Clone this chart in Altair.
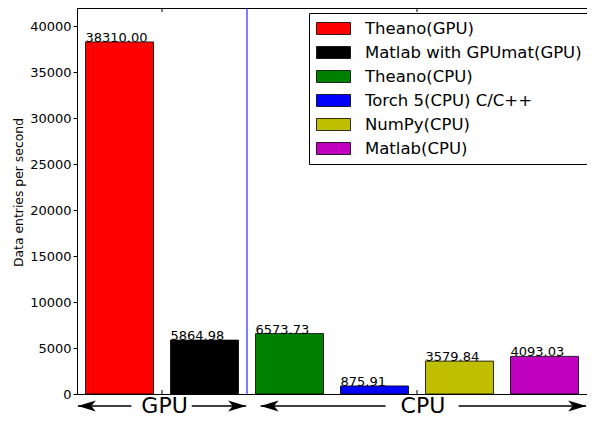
import altair as alt
import pandas as pd

# ---- data ----
names = ["Theano(GPU)", "Matlab with GPUmat(GPU)", "Theano(CPU)",
         "Torch 5(CPU) C/C++", "NumPy(CPU)", "Matlab(CPU)"]
values = [38310.00, 5864.98, 6573.73, 875.91, 3579.84, 4093.03]
positions = [0, 1, 2, 3, 4, 5]
colors = ["#ff0000", "#000000", "#008000", "#0000ff", "#bfbf00", "#bf00bf"]
y_ticks = [0, 5000, 10000, 15000, 20000, 25000, 30000, 35000, 40000]
x_ticks = [0.5, 3.5]
divider = [1.5]
group_labels = ["GPU", "CPU"]
group_centers = [0.53, 3.57]
arrow_tails = [0.14, 0.85, 3.13, 3.99]
arrow_tips = [-0.49, 1.49, 1.66, 5.49]
arrow_dirs = ["left", "right", "left", "right"]

# ---- layout / style ----
W, H = 510, 386
XDOM = [-0.5, 5.5]
YDOM = [0, 42000]
BAR_W = 0.8
FONT = "DejaVu Sans"
# legend swatch: 34x12 px with symbolSize 256 (r = 8 px)
RECT_PATH = "M-1,-0.75L3.25,-0.75L3.25,0.75L-1,0.75Z"
LEFT_HEAD = "M0,0L2,-0.62L1.5,0L2,0.62Z"
RIGHT_HEAD = "M0,0L-2,-0.62L-1.5,0L-2,0.62Z"
ANNOT_Y = H + 12

bars_df = pd.DataFrame({"name": names, "value": values, "pos": positions})
bars_df["left"] = bars_df["pos"] - BAR_W / 2
bars_df["right"] = bars_df["pos"] + BAR_W / 2
bars_df["base"] = 0
bars_df["label"] = [f"{v:.2f}" for v in values]

xscale = alt.Scale(domain=XDOM, nice=False, zero=False)
yscale = alt.Scale(domain=YDOM, nice=False)
xaxis = alt.Axis(labels=False, ticks=False, title=None, grid=False, domain=False)

bars = alt.Chart(bars_df).mark_bar(stroke="black", strokeWidth=0.8).encode(
    x=alt.X("left:Q", scale=xscale, axis=xaxis, title=None),
    x2="right:Q",
    y=alt.Y("value:Q", scale=yscale,
            axis=alt.Axis(values=y_ticks, format="d", labelFontSize=13,
                          tickSize=4, labelPadding=2,
                          title="Data entries per second", titleFontSize=12.4,
                          titleFontWeight="normal", titlePadding=4,
                          titleY=184, grid=False)),
    y2="base:Q",
    color=alt.Color("name:N", scale=alt.Scale(domain=names, range=colors),
                    title=None,
                    legend=alt.Legend(orient="none", legendX=232, legendY=5,
                                      symbolType=RECT_PATH, symbolSize=256,
                                      symbolStrokeColor="black",
                                      symbolStrokeWidth=0.8,
                                      labelFontSize=16.5, labelFont=FONT,
                                      labelColor="black", labelOffset=32,
                                      rowPadding=7, padding=7,
                                      labelLimit=400)),
)

labels = alt.Chart(bars_df).mark_text(align="left", baseline="alphabetic",
                                      fontSize=13, font=FONT, color="black").encode(
    x=alt.X("left:Q", scale=xscale, axis=xaxis, title=None),
    y=alt.Y("value:Q", scale=yscale),
    text="label:N",
)

vline = alt.Chart(pd.DataFrame({"x": divider})).mark_rule(color="blue", strokeWidth=1).encode(
    x=alt.X("x:Q", scale=xscale, axis=xaxis, title=None),
)

ticks_df = pd.DataFrame({"x": x_ticks})
bottom_ticks = alt.Chart(ticks_df).mark_rule(color="black").encode(
    x=alt.X("x:Q", scale=xscale, axis=xaxis, title=None),
    y=alt.value(H), y2=alt.value(H - 4),
)
top_ticks = alt.Chart(ticks_df).mark_rule(color="black").encode(
    x=alt.X("x:Q", scale=xscale, axis=xaxis, title=None),
    y=alt.value(0), y2=alt.value(4),
)

arrows_df = pd.DataFrame({"tail": arrow_tails, "tip": arrow_tips, "dir": arrow_dirs})
arrow_lines = alt.Chart(arrows_df).mark_rule(color="black", strokeWidth=1.4).encode(
    x=alt.X("tail:Q", scale=xscale, axis=xaxis, title=None),
    x2="tip:Q",
    y=alt.value(ANNOT_Y),
)
arrow_heads = alt.Chart(arrows_df).mark_point(filled=True, color="black", opacity=1,
                                              size=324, strokeWidth=0).encode(
    x=alt.X("tip:Q", scale=xscale, axis=xaxis, title=None),
    y=alt.value(ANNOT_Y),
    shape=alt.Shape("dir:N", scale=alt.Scale(domain=["left", "right"],
                                             range=[LEFT_HEAD, RIGHT_HEAD]),
                    legend=None),
)

groups_df = pd.DataFrame({"label": group_labels, "center": group_centers})
group_text = alt.Chart(groups_df).mark_text(fontSize=22, font=FONT, color="black",
                                            align="center", baseline="middle").encode(
    x=alt.X("center:Q", scale=xscale, axis=xaxis, title=None),
    y=alt.value(ANNOT_Y),
    text="label:N",
)

chart = alt.layer(bars, labels, vline, bottom_ticks, top_ticks,
                  arrow_lines, arrow_heads, group_text).properties(
    width=W, height=H,
    autosize=alt.AutoSizeParams(type="none"),
    padding={"left": 69, "top": 0, "right": 0, "bottom": 26},
).configure_view(stroke="black", strokeWidth=1).configure_axis(
    labelFont=FONT, titleFont=FONT, labelColor="black", titleColor="black",
    domainColor="black", tickColor="black",
).configure_legend(strokeColor="black", fillColor="white", cornerRadius=0)

chart.save("out.html", embed_options={"renderer": "svg", "actions": False})
